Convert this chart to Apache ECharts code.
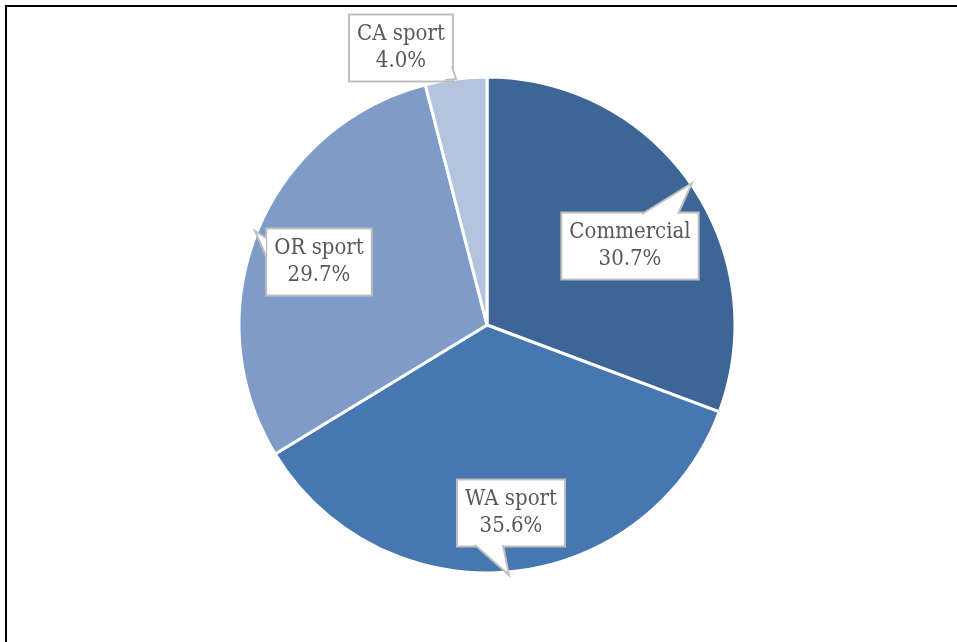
<!DOCTYPE html>
<html>
<head>
<meta charset="utf-8">
<script src="https://cdn.jsdelivr.net/npm/echarts@6/dist/echarts.min.js"></script>
<style>
html,body{margin:0;padding:0;background:#fff;}
#chart{width:957px;height:642px;}
</style>
</head>
<body>
<div id="chart"></div>
<script>
const categories = ['Commercial', 'WA sport', 'OR sport', 'CA sport'];
const values = [30.7, 35.6, 29.7, 4.0];
const colors = ['#3d6696', '#4777b0', '#7f9cc8', '#b4c3de'];

// label box centres (pixel positions of the callouts)
const labelPos = [[630, 246], [511, 513], [319, 262], [401, 48]];
// callout pointers: [base point A, tip, base point B]
const pointers = [
  [[642, 214], [692, 183], [678, 214]],
  [[475, 545], [509, 575], [503, 545]],
  [[266, 238], [255, 231], [266, 256]],
  [[452, 66], [456, 79], [445, 80]]
];

const graphics = [{
  type: 'rect',
  shape: {x: 6, y: 6, width: 1000, height: 700},
  style: {fill: 'none', stroke: '#000', lineWidth: 2},
  silent: true,
  z: 0
}];
pointers.forEach(p => {
  graphics.push({
    type: 'polygon', z: 100, silent: true,
    shape: {points: p},
    style: {fill: '#ffffff', stroke: null}
  });
  graphics.push({
    type: 'polyline', z: 101, silent: true,
    shape: {points: p},
    style: {fill: null, stroke: '#bfbfbf', lineWidth: 2}
  });
});

const chart = echarts.init(document.getElementById('chart'), null, {renderer: 'canvas'});
chart.setOption({
  backgroundColor: '#ffffff',
  animation: false,
  graphic: graphics,
  series: [{
    type: 'pie',
    center: [487, 325],
    radius: 248,
    startAngle: 90,
    clockwise: true,
    data: categories.map((c, i) => ({name: c, value: values[i], itemStyle: {color: colors[i]}})),
    itemStyle: {borderColor: '#ffffff', borderWidth: 3},
    label: {
      show: true,
      position: 'outside',
      formatter: p => p.name + '\n' + p.value.toFixed(1) + '%',
      fontFamily: '"DejaVu Serif Condensed", "DejaVu Serif", serif',
      fontSize: 22,
      lineHeight: 27,
      color: '#595959',
      align: 'center',
      backgroundColor: '#ffffff',
      borderColor: '#bfbfbf',
      borderWidth: 2,
      padding: [8, 7, 3, 7]
    },
    labelLine: {show: false},
    labelLayout: function (params) {
      const p = labelPos[params.dataIndex];
      return {x: p[0], y: p[1], align: 'center', verticalAlign: 'middle'};
    },
    emphasis: {disabled: true}
  }]
});
</script>
</body>
</html>
